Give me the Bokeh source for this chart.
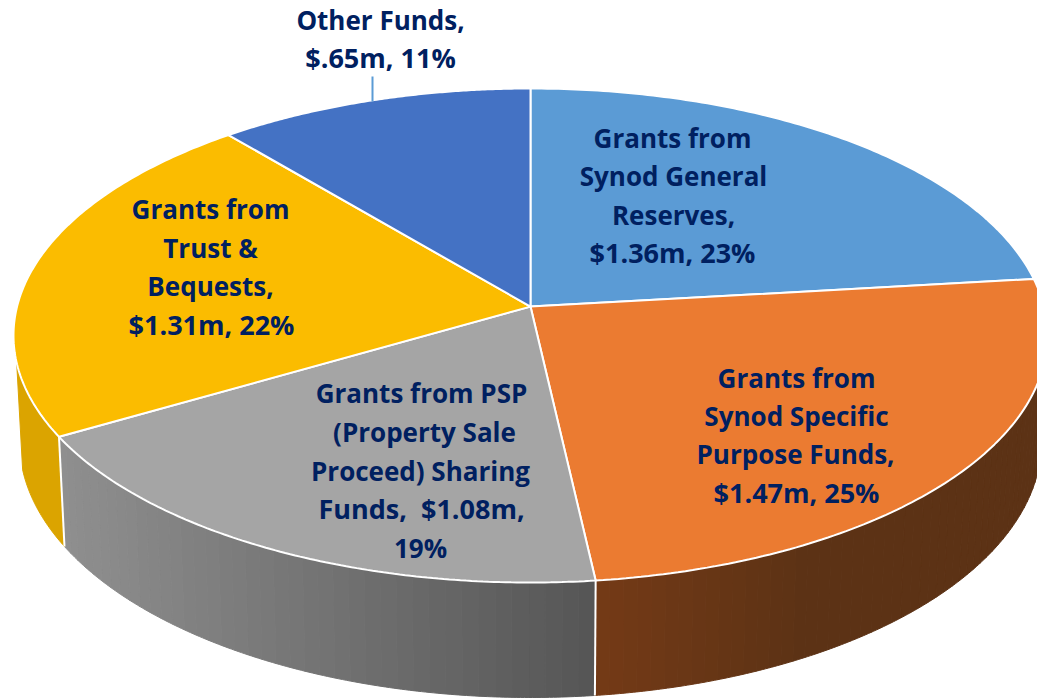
import numpy as np
from bokeh.plotting import figure
from bokeh.models import Range1d
from bokeh.core.properties import value
from bokeh.embed import file_html
from bokeh.resources import INLINE

categories = ["Grants from Synod General Reserves", "Grants from Synod Specific Purpose Funds",
              "Grants from PSP (Property Sale Proceed) Sharing Funds", "Grants from Trust & Bequests", "Other Funds"]
values = [1.36, 1.47, 1.08, 1.31, 0.65]
colors = ["#5B9BD5", "#EB7B31", "#A5A5A5", "#FBBC00", "#4472C4"]

label_lines = [
    ["Grants from", "Synod General", "Reserves,", "$1.36m, 23%"],
    ["Grants from", "Synod Specific", "Purpose Funds,", "$1.47m, 25%"],
    ["Grants from PSP", "(Property Sale", "Proceed) Sharing", "Funds,\u00a0 $1.08m,", "19%"],
    ["Grants from", "Trust &", "Bequests,", "$1.31m, 22%"],
    ["Other Funds,", "$.65m, 11%"],
]
label_x = [[672, 673, 673, 672], [796, 796, 795, 796], [421, 424, 420, 421, 420], [210, 210, 210, 211], [380, 380]]
label_y = [[137, 175, 214, 252], [377, 415, 453, 492], [392, 431, 470, 508, 547], [208, 247, 285, 324], [19, 57]]

W, H = 1037, 698
p = figure(width=W, height=H, x_range=Range1d(0, W), y_range=Range1d(H, 0),
           output_backend="svg", toolbar_location=None, min_border=0)
p.axis.visible = False
p.grid.visible = False
p.outline_line_color = None
p.background_fill_color = "white"

CX, TOP_CY, TOP_RX, TOP_RY = 530, 335, 517, 247
BOT_CY, BOT_RX, BOT_RY = 441, 511, 256
K = 0.117  # perspective shift of the disc centre


def persp(t):
    X, Y = np.sin(t), np.cos(t)
    d = 1 + K * Y
    return X * np.sqrt(1 - K * K) / d, (Y + K) / d


def top(t):
    a, b = persp(t)
    return CX + TOP_RX * a, TOP_CY - TOP_RY * b


def bottom(t):
    a, b = persp(t)
    return CX + BOT_RX * a, BOT_CY - BOT_RY * b


fr = np.cumsum([0] + values) / sum(values) * 2 * np.pi
T_L, T_R = np.radians(257), np.radians(103)


def mix(c1, c2, f):
    return "#%02x%02x%02x" % tuple(int(round(a + (b - a) * f)) for a, b in zip(c1, c2))


def side_strips(t0, t1, x0, x1, c0, c1, n):
    for i in range(n):
        a, b = t0 + (t1 - t0) * i / n, t0 + (t1 - t0) * (i + 1) / n
        ts = np.linspace(a, b, 5)
        xt, yt = top(ts)
        xb, yb = bottom(ts)
        xm = xb.mean()
        f = float(np.clip((xm - x0) / (x1 - x0), 0, 1))
        col = mix(c0, c1, f)
        p.patch(np.r_[xt, xb[::-1]], np.r_[yt, yb[::-1]], fill_color=col, line_color=col, line_width=1)


# Side walls
side_strips(fr[2], fr[3], 66, 597, (143, 143, 143), (85, 85, 85), 40)
side_strips(T_R, fr[2], 597, 800, (116, 58, 22), (92, 50, 21), 50)
ts = np.linspace(fr[3], T_L, 40)
xt, yt = top(ts)
xb, yb = bottom(ts)
p.patch(np.r_[xt, xb[::-1]], np.r_[yt, yb[::-1]], fill_color="#DBA400", line_color="#DBA400", line_width=1)

# Wall dividers
for t in (fr[2], fr[3]):
    xa, ya = top(t)
    xc, yc = bottom(t)
    p.line([xa, xc], [ya, yc], line_color="white", line_width=2)

# Top face
apex_y = TOP_CY - TOP_RY * K
for i, c in enumerate(colors):
    ts = np.linspace(fr[i], fr[i + 1], 120)
    xs, ys = top(ts)
    p.patch(np.r_[CX, xs], np.r_[apex_y, ys], fill_color=c, line_color="white", line_width=2)

# Leader line for the outside label
p.line([372, 372], [76, 101], line_color="#5B9BD5", line_width=2)

# Labels: the lines holding amounts are set a little larger, as their digits run wider
for lines, xs, ys in zip(label_lines, label_x, label_y):
    for line, x, y in zip(lines, xs, ys):
        size = "27px" if "$" in line else "26px"
        p.text([x], [y], text=[line], text_color="#002060", text_font=value("Open Sans"),
               text_font_style="bold", text_font_size=size, text_align="center", text_baseline="middle")

open("out.html", "w").write(file_html(p, INLINE))
